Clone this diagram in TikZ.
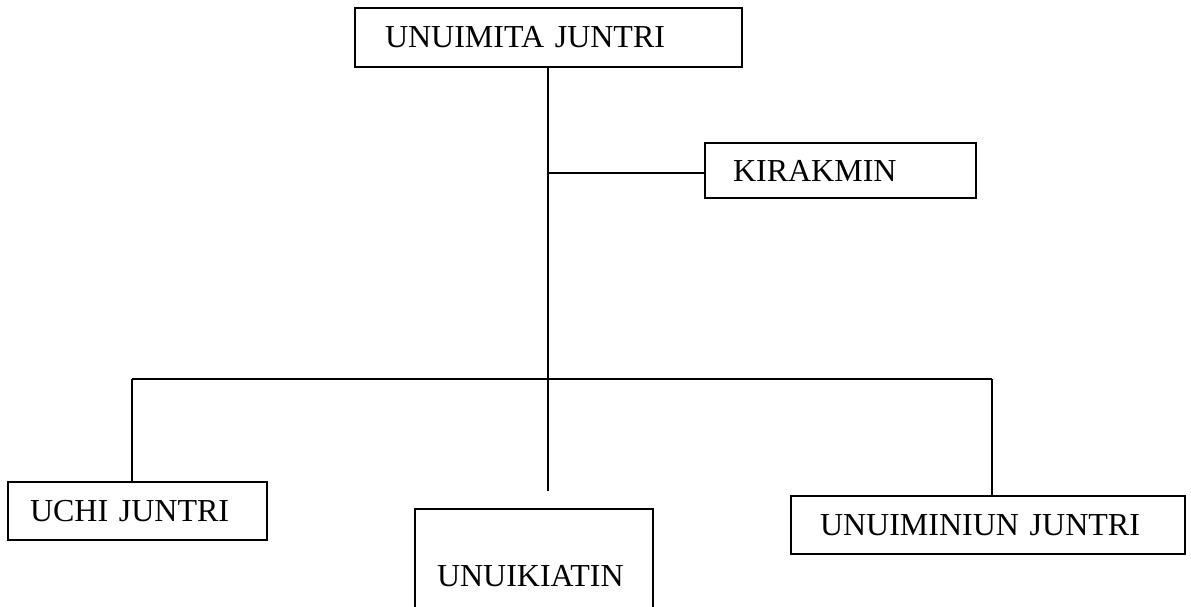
\documentclass[tikz,border=0pt]{standalone}
\usepackage{fontspec}
\setmainfont{Liberation Serif}
\begin{document}
\begin{tikzpicture}[x=1pt,y=-1pt,
    unitbox/.style={draw,line width=1.8pt,anchor=north west,outer sep=0pt,
      align=left,font=\fontsize{32}{38}\selectfont},
    link/.style={line width=1.8pt}]
  \useasboundingbox (0,0) rectangle (1191,606);
  \clip (0,0) rectangle (1191,606);
  \node[unitbox,inner xsep=30pt,text width=327pt,minimum height=59pt] (chief) at (355,8) {UNUIMITA JUNTRI};
  \node[unitbox,inner xsep=28pt,text width=215pt,minimum height=55pt] (kir) at (705,143) {KIRAKMIN};
  \node[unitbox,inner xsep=22pt,text width=215pt,minimum height=58pt] (uchi) at (8,482) {UCHI JUNTRI};
  \node[unitbox,inner xsep=22pt,text width=194pt,minimum height=134pt] (unuik) at (415,509) {UNUIKIATIN};
  \node[unitbox,inner xsep=29pt,text width=336pt,minimum height=58pt] (unuimin) at (791,496) {UNUIMINIUN JUNTRI};
  \coordinate (top) at (548,67);
  \coordinate (mid) at (548,491);
  \coordinate (junc) at (548,173);
  \coordinate (busl) at (132,379);
  \coordinate (busr) at (992,379);
  \begin{scope}[link]
    \draw (top) -- (mid);
    \draw (junc) -- (junc -| kir.west);
    \draw (busl) -- (busr);
    \draw (busl) -- (busl |- uchi.north);
    \draw (busr) -- (busr |- unuimin.north);
  \end{scope}
\end{tikzpicture}
\end{document}
